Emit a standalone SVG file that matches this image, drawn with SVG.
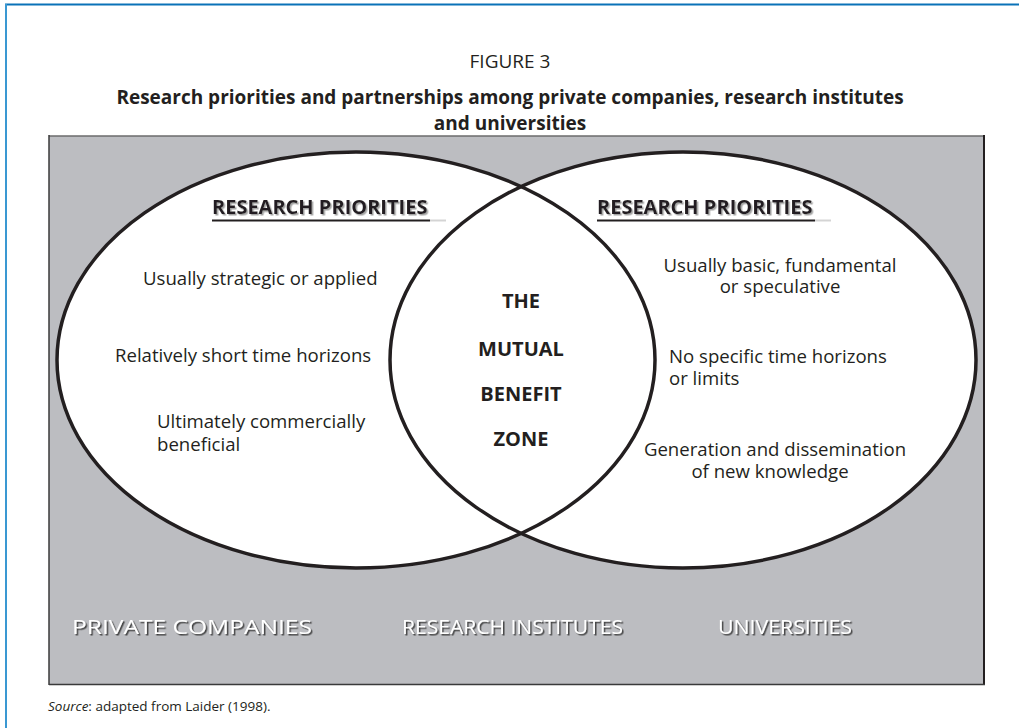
<svg xmlns="http://www.w3.org/2000/svg" width="1019" height="728" viewBox="0 0 1019 728">
  <defs>
    <filter id="shadow-light" x="-5%" y="-30%" width="110%" height="160%">
      <feDropShadow dx="1.5" dy="1.5" stdDeviation="0.6" flood-color="#9a9a9a" flood-opacity="0.9"/>
    </filter>
    <filter id="shadow-dark" x="-5%" y="-30%" width="110%" height="160%">
      <feDropShadow dx="1.5" dy="1.5" stdDeviation="0.5" flood-color="#3a3a3a" flood-opacity="0.95"/>
    </filter>
  </defs>
  <style>
    text { font-family: "Open Sans", "Noto Sans", "Liberation Sans", sans-serif; fill: #231f20; }
    .caption { font-size: 19px; }
    .title { font-size: 19px; font-weight: bold; }
    .head { font-size: 20px; font-weight: bold; filter: url(#shadow-light); }
    .body { font-size: 18.6px; }
    .zone { font-size: 20px; font-weight: bold; text-anchor: middle; }
    .label { font-size: 20px; fill: #ffffff; filter: url(#shadow-dark); }
    .source { font-size: 13.5px; }
    .ring { fill: none; stroke: #231f20; stroke-width: 3.5; }
    .fillw { fill: #ffffff; stroke: none; }
  </style>

  <!-- page frame -->
  <g id="frame">
    <line x1="5" y1="4.5" x2="1019" y2="4.5" stroke="#0a72b8" stroke-width="2"/>
    <line x1="6" y1="4" x2="6" y2="728" stroke="#3a98d2" stroke-width="2"/>
  </g>

  <!-- heading -->
  <g id="heading">
    <text class="caption" x="510" y="68" text-anchor="middle">FIGURE 3</text>
    <text class="title" x="510" y="104" text-anchor="middle">Research priorities and partnerships among private companies, research institutes</text>
    <text class="title" x="510" y="130" text-anchor="middle">and universities</text>
  </g>

  <!-- grey panel -->
  <g id="panel">
    <rect x="49" y="136" width="935" height="548" fill="#bcbdc1"/>
    <line x1="49" y1="136" x2="984" y2="136" stroke="#6b6b6b" stroke-width="1.5"/>
    <line x1="49" y1="135" x2="49" y2="685" stroke="#3a3a3a" stroke-width="1.5"/>
    <line x1="984" y1="135" x2="984" y2="685" stroke="#231f20" stroke-width="2"/>
    <line x1="49" y1="684.5" x2="985" y2="684.5" stroke="#3a3a3a" stroke-width="1.5"/>
  </g>

  <!-- white interiors of both ellipses -->
  <g id="fills">
    <ellipse class="fillw" cx="356" cy="360" rx="299" ry="208"/>
    <ellipse class="fillw" cx="683" cy="360" rx="293" ry="208"/>
  </g>

  <!-- private companies ellipse -->
  <g id="private-companies">
    <ellipse class="ring" cx="356" cy="360" rx="299" ry="208"/>
    <text class="head" x="212" y="214">RESEARCH PRIORITIES</text>
    <line x1="212" y1="220.5" x2="430" y2="220.5" stroke="#231f20" stroke-width="2"/>
    <line x1="430" y1="220.5" x2="446" y2="220.5" stroke="#d4d4d4" stroke-width="2"/>
    <text class="body" x="143" y="285">Usually strategic or applied</text>
    <text class="body" x="115" y="362">Relatively short time horizons</text>
    <text class="body" x="157" y="428">Ultimately commercially</text>
    <text class="body" x="157" y="451">beneficial</text>
    <text class="label" x="72" y="634" textLength="240" lengthAdjust="spacingAndGlyphs">PRIVATE COMPANIES</text>
  </g>

  <!-- universities ellipse -->
  <g id="universities">
    <ellipse class="ring" cx="683" cy="360" rx="293" ry="208"/>
    <text class="head" x="597" y="214">RESEARCH PRIORITIES</text>
    <line x1="597" y1="220.5" x2="815" y2="220.5" stroke="#231f20" stroke-width="2"/>
    <line x1="815" y1="220.5" x2="831" y2="220.5" stroke="#d4d4d4" stroke-width="2"/>
    <text class="body" x="780" y="272" text-anchor="middle">Usually basic, fundamental</text>
    <text class="body" x="780" y="293" text-anchor="middle">or speculative</text>
    <text class="body" x="669" y="363">No specific time horizons</text>
    <text class="body" x="669" y="385">or limits</text>
    <text class="body" x="775" y="456" text-anchor="middle">Generation and dissemination</text>
    <text class="body" x="770" y="478" text-anchor="middle">of new knowledge</text>
    <text class="label" x="718" y="634" textLength="134" lengthAdjust="spacingAndGlyphs">UNIVERSITIES</text>
  </g>

  <!-- overlap: research institutes -->
  <g id="mutual-benefit-zone">
    <text class="zone" x="521" y="308">THE</text>
    <text class="zone" x="521" y="356">MUTUAL</text>
    <text class="zone" x="521" y="401">BENEFIT</text>
    <text class="zone" x="521" y="446">ZONE</text>
    <text class="label" x="402" y="634" textLength="221" lengthAdjust="spacingAndGlyphs">RESEARCH INSTITUTES</text>
  </g>

  <!-- source note -->
  <g id="source">
    <text class="source" x="48" y="711"><tspan font-style="italic">Source</tspan>: adapted from Laider (1998).</text>
  </g>
</svg>
